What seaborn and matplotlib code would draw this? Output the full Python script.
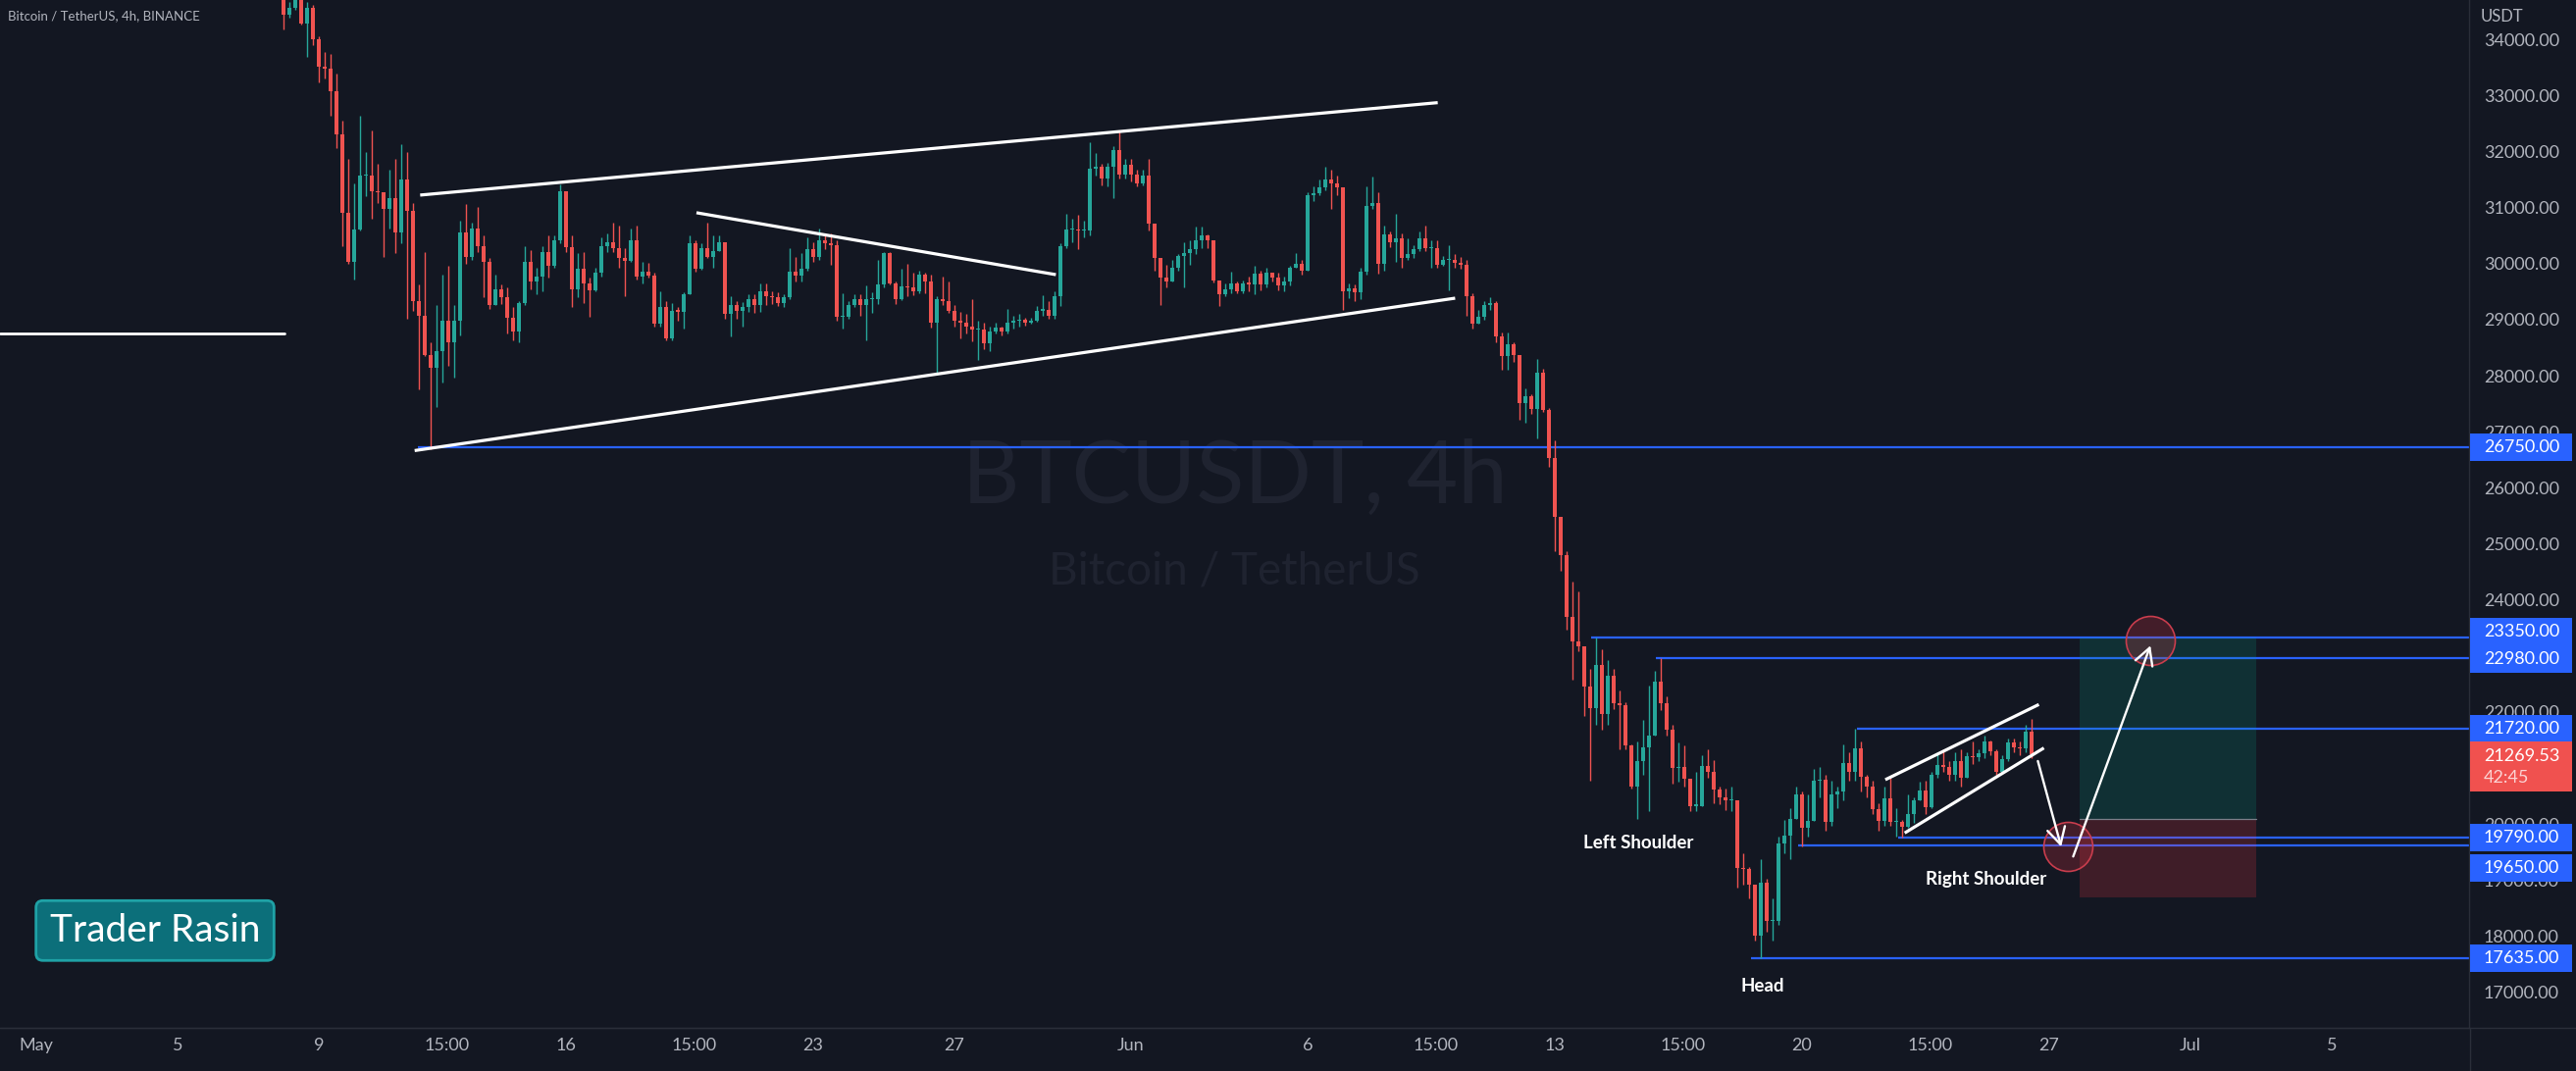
import numpy as np
import pandas as pd
import matplotlib
matplotlib.use("Agg")
import matplotlib.pyplot as plt
import matplotlib.dates as mdates
import matplotlib.transforms as mtransforms
from matplotlib.patches import Rectangle, FancyBboxPatch
from matplotlib.lines import Line2D
import seaborn as sns

# ---------------- data (BTCUSDT 4h, BINANCE) ----------------
candle_start = "2022-05-08 00:00"
candle_freq = "4h"
first_open = 34900
closes = [
    34470, 34590, 34780, 34320, 34590, 34030, 33540, 33510, 33110, 32340,
    30930, 30060, 30630, 31590, 31600, 31310, 31300, 31000, 31190, 30590,
    31530, 30960, 29360, 29090, 28390, 28170, 28460, 29010, 28630, 29010,
    30580, 30150, 30650, 30330, 30060, 29280, 29570, 29420, 29060, 28810,
    29320, 30060, 29700, 29800, 30240, 29990, 30440, 31320, 30320, 29570,
    29940, 29670, 29550, 29860, 30340, 30400, 30300, 30120, 30080, 30440,
    29800, 29890, 29820, 28960, 29260, 28690, 29180, 29170, 29480, 30390,
    29940, 30310, 30150, 30250, 30410, 29130, 29290, 29190, 29250, 29400,
    29280, 29540, 29450, 29420, 29330, 29420, 29880, 29820, 29940, 30280,
    30150, 30440, 30390, 30360, 29070, 29080, 29280, 29390, 29280, 29390,
    29400, 29660, 30210, 29680, 29390, 29620, 29600, 29530, 29830, 29710,
    28980, 29390, 29360, 29190, 29000, 28980, 28900, 28850, 28850, 28600,
    28810, 28890, 28810, 28970, 29000, 29030, 28970, 29010, 29190, 29200,
    29100, 29450, 30330, 30630, 30630, 30620, 30620, 31720, 31760, 31550,
    31760, 32050, 31610, 31790, 31610, 31460, 31590, 30740, 30120, 29780,
    29710, 29950, 30170, 30210, 30290, 30440, 30530, 30440, 29730, 29480,
    29570, 29680, 29540, 29680, 29660, 29840, 29660, 29860, 29770, 29630,
    29700, 29960, 30030, 29900, 31250, 31290, 31390, 31530, 31460, 31380,
    29540, 29590, 29510, 29890, 31060, 31110, 30020, 30540, 30400, 30470,
    30120, 30190, 30290, 30470, 30300, 30300, 30010, 30090, 30090, 30040,
    30010, 29450, 28960, 29070, 29280, 29320, 28720, 28380, 28580, 28400,
    27540, 27660, 27430, 28080, 27410, 26560, 25510, 24820, 23730, 23280,
    23190, 22480, 22090, 22870, 21980, 22670, 22180, 22140, 21420, 20690,
    21150, 21400, 21600, 22570, 22180, 21710, 21020, 21050, 20840, 20350,
    20350, 21060, 20960, 20640, 20500, 20440, 20440, 19240, 19220, 18950,
    18040, 18970, 18290, 18290, 19680, 19820, 20120, 20550, 19960, 20080,
    20790, 20820, 20060, 20550, 20610, 21110, 20950, 21370, 20860, 20700,
    20290, 20080, 20480, 20060, 20060, 19970, 20200, 20450, 20620, 20320,
    20900, 21080, 21050, 20900, 21150, 20850, 21240, 21210, 21280, 21490,
    21320, 20950, 21180, 21480, 21400, 21370, 21670, 21270,
]
highs = [
    34950, 34700, 34900, 34850, 34700, 34650, 34080, 33800, 33770, 33420,
    32570, 31900, 31460, 32660, 32020, 32400, 31810, 31290, 31700, 31900,
    32160, 32020, 31110, 29650, 30240, 28630, 29280, 29830, 29980, 29280,
    30790, 31090, 30760, 31030, 30530, 30120, 29830, 29650, 29600, 29250,
    29360, 30340, 30270, 29950, 30330, 30530, 30530, 31440, 31320, 30530,
    30210, 30240, 29770, 29950, 30500, 30560, 30760, 30700, 30300, 30650,
    30700, 30060, 30040, 29860, 29540, 29360, 29330, 29250, 29510, 30530,
    30440, 30390, 30760, 30530, 30530, 30410, 29450, 29360, 29340, 29480,
    29480, 29680, 29680, 29540, 29510, 29480, 30300, 30150, 30210, 30490,
    30410, 30660, 30560, 30560, 30440, 29500, 29360, 29480, 29480, 29630,
    29510, 30100, 30240, 30240, 29700, 29940, 30020, 29860, 29900, 29860,
    29830, 29450, 29800, 29700, 29290, 29170, 29130, 29390, 29000, 28970,
    28900, 28970, 28900, 29220, 29100, 29130, 29060, 29060, 29270, 29460,
    29350, 29530, 30390, 30910, 30820, 30900, 30800, 32200, 32000, 31800,
    31830, 32130, 32400, 31900, 31900, 31700, 31700, 31900, 30740, 30120,
    30000, 30100, 30200, 30400, 30450, 30680, 30680, 30540, 30440, 29730,
    29680, 29880, 29700, 29720, 29800, 29990, 29900, 29950, 29870, 29870,
    29800, 29990, 30220, 30100, 31300, 31400, 31520, 31750, 31700, 31600,
    31380, 29680, 29650, 29960, 31410, 31580, 31300, 30700, 30600, 30910,
    30560, 30470, 30350, 30600, 30700, 30450, 30440, 30170, 30350, 30200,
    30150, 30100, 29500, 29200, 29350, 29420, 29350, 28800, 28800, 28630,
    28400, 27800, 27700, 28330, 28150, 27450, 26870, 25300, 24900, 24360,
    24180, 23200, 22800, 23350, 23150, 22950, 22800, 22400, 22200, 21450,
    21500, 21880, 22500, 22750, 22980, 22300, 21800, 21480, 21420, 20800,
    20960, 21250, 21350, 21170, 20700, 20650, 20700, 20440, 19500, 19250,
    18950, 19400, 19050, 18700, 19800, 20100, 20300, 20700, 20600, 20550,
    21000, 21050, 20900, 20800, 20700, 21450, 21300, 21720, 21500, 20900,
    20800, 20400, 20700, 20850, 20300, 20100, 20550, 20500, 20780, 20800,
    20950, 21300, 21350, 21150, 21300, 21350, 21300, 21500, 21350, 21600,
    21520, 21350, 21250, 21550, 21550, 21500, 21800, 21900,
]
lows = [
    34200, 34420, 34560, 34290, 33710, 33920, 33270, 33330, 32660, 32080,
    30330, 30030, 29740, 30620, 31230, 30820, 31100, 30150, 30650, 30210,
    30390, 29040, 29190, 27790, 28370, 26710, 27470, 27900, 28200, 27990,
    28750, 30030, 30100, 30240, 29420, 29220, 29280, 29300, 28780, 28660,
    28630, 29290, 29570, 29480, 29540, 29770, 29950, 30390, 30240, 29250,
    29420, 29330, 29070, 29540, 29800, 30240, 30240, 29950, 29450, 30060,
    29740, 29680, 29770, 28900, 28900, 28660, 28660, 29000, 28870, 29480,
    29890, 29920, 30120, 29950, 30250, 29050, 28720, 29050, 28900, 29160,
    29150, 29160, 29290, 29310, 29270, 29250, 29400, 29700, 29700, 29900,
    30050, 30100, 30280, 30000, 29000, 28870, 29050, 29250, 29100, 28660,
    29150, 29300, 29600, 29650, 29300, 29380, 29450, 29470, 29500, 29500,
    28880, 28050, 29290, 29150, 28900, 28700, 28780, 28640, 28310, 28500,
    28470, 28780, 28750, 28780, 28870, 28900, 28920, 28950, 28990, 29100,
    29050, 29050, 29270, 30300, 30400, 30280, 30500, 30530, 31600, 31420,
    31400, 31200, 31550, 31550, 31500, 31400, 31430, 30620, 29900, 29290,
    29600, 29700, 29900, 29600, 30000, 30200, 30300, 30300, 29690, 29270,
    29450, 29500, 29500, 29500, 29540, 29480, 29550, 29600, 29700, 29550,
    29530, 29630, 29950, 29830, 29900, 31150, 31250, 31340, 31000, 31250,
    29200, 29410, 29350, 29400, 29830, 31000, 29850, 29900, 30320, 30050,
    29960, 30100, 30130, 30250, 30250, 29960, 29950, 29990, 29550, 29960,
    29930, 29100, 28870, 28950, 29020, 29200, 28620, 28130, 28130, 28270,
    27240, 27190, 27350, 26900, 27380, 26400, 24900, 24550, 23500, 22600,
    23100, 21950, 20800, 21800, 21700, 21800, 22080, 21350, 21350, 20650,
    20120, 20900, 20250, 21600, 22050, 21600, 20750, 20780, 20700, 20250,
    20250, 20350, 20850, 20400, 20380, 20280, 20250, 18890, 18950, 18700,
    17950, 17630, 18100, 17950, 18230, 19500, 19400, 20150, 19630, 19800,
    20150, 20500, 19900, 20000, 20300, 20450, 20800, 20800, 20600, 20500,
    20200, 19900, 20000, 20000, 19800, 19790, 19950, 20050, 20450, 20200,
    20300, 20850, 20950, 20800, 20800, 20700, 20850, 21100, 21150, 21200,
    21250, 20900, 20950, 21150, 21300, 21250, 21300, 21200,
]

level_prices = [26750, 23350, 22980, 21720, 19790, 19650, 17635]
level_from = ["2022-05-11 19:10", "2022-06-14 00:45", "2022-06-15 20:50",
              "2022-06-21 13:10", "2022-06-22 17:30", "2022-06-19 21:20",
              "2022-06-18 13:25"]
last_price = 21269.53
countdown = "42:45"
price_ticks = list(range(17000, 35000, 1000))
time_ticks = ["2022-05-01", "2022-05-05", "2022-05-09", "2022-05-12 15:00",
              "2022-05-16", "2022-05-19 15:00", "2022-05-23", "2022-05-27",
              "2022-06-01", "2022-06-06", "2022-06-09 15:00", "2022-06-13",
              "2022-06-16 15:00", "2022-06-20", "2022-06-23 15:00",
              "2022-06-27", "2022-07-01", "2022-07-05"]
time_tick_labels = ["May", "5", "9", "15:00", "16", "15:00", "23", "27",
                    "Jun", "6", "15:00", "13", "15:00", "20", "15:00", "27",
                    "Jul", "5"]

# drawings: (time, price)
channel_top = [("2022-05-11 21:00", 31250), ("2022-06-09 16:30", 32900)]
channel_bottom = [("2022-05-11 17:15", 26690), ("2022-06-10 04:20", 29410)]
triangle_top = [("2022-05-19 16:45", 30935), ("2022-05-29 21:00", 29830)]
wedge_top = [("2022-06-22 08:40", 20816), ("2022-06-26 17:00", 22158)]
wedge_bottom = [("2022-06-22 21:50", 19865), ("2022-06-26 20:25", 21382)]
old_level_price = 28780
old_level_end = "2022-05-08 00:30"
arrow_down = [("2022-06-26 16:20", 21149), ("2022-06-27 08:10", 19620)]
arrow_up = [("2022-06-27 16:20", 19445), ("2022-06-29 20:50", 23209)]
circle_marks = [("2022-06-29 21:00", 23296), ("2022-06-27 13:00", 19620)]
pos_start, pos_end = "2022-06-27 20:50", "2022-07-02 20:50"
pos_target, pos_entry, pos_stop = 23350, 20116, 18716
pattern_labels = [("Left Shoulder", "2022-06-15 08:55", 19590),
                  ("Head", "2022-06-18 21:05", 17040),
                  ("Right Shoulder", "2022-06-25 04:50", 18940)]

# ---------------- style ----------------
W, H, DPI = 2626, 1092, 100
BG = "#131722"
UP, DOWN = "#26a69a", "#ef5350"
BLUE = "#2962ff"
TXT = "#b2b5be"
# label de-collision shifts on the price scale (pixels, + = down)
label_shift_px = [0, -6, 1, 0, 0, 23, 0]

sns.set_theme(style="dark", rc={"axes.facecolor": BG, "figure.facecolor": BG,
                                "axes.grid": False})
plt.rcParams["font.family"] = ["Lato", "DejaVu Sans"]


def T(s):
    return mdates.date2num(pd.Timestamp(s).to_pydatetime())


fig = plt.figure(figsize=(W / DPI, H / DPI), dpi=DPI)
fig.patch.set_facecolor(BG)
ax = fig.add_axes([0, 44 / H, 2517 / W, 1048 / H])
ax.set_facecolor(BG)

Y_TOP, Y_BOT = 34731.7, 16387.0
X_L, X_R = T("2022-04-29 23:28"), T("2022-07-08 21:22")
ax.set_xlim(X_L, X_R)
ax.set_ylim(Y_BOT, Y_TOP)
PPX = (Y_TOP - Y_BOT) / 1048.0

# ---------------- candles ----------------
times = pd.date_range(candle_start, periods=len(closes), freq=candle_freq)
x = mdates.date2num(times.to_pydatetime())
c = np.array(closes, float)
o = np.concatenate([[first_open], c[:-1]])
hi = np.maximum(np.array(highs, float), np.maximum(o, c))
lo = np.minimum(np.array(lows, float), np.minimum(o, c))
cols = np.where(c >= o, UP, DOWN)
bottoms = np.minimum(o, c)
heights = np.maximum(np.abs(c - o), 1.3 * PPX)
bw = (4 / 24) * 0.66
ax.vlines(x, lo, hi, colors=cols, linewidth=1.0, zorder=3)
ax.bar(x, heights, width=bw, bottom=bottoms, color=cols, linewidth=0,
       zorder=3.1, align="center")

# ---------------- level lines ----------------
for p, s in zip(level_prices, level_from):
    ax.hlines(p, T(s), X_R, color=BLUE, linewidth=1.6, zorder=2.5)

# ---------------- white drawings ----------------
for seg in [channel_top, channel_bottom, triangle_top, wedge_top, wedge_bottom]:
    ax.plot([T(seg[0][0]), T(seg[1][0])], [seg[0][1], seg[1][1]],
            color="white", linewidth=2.3, solid_capstyle="butt", zorder=4)
ax.plot([X_L, T(old_level_end)], [old_level_price, old_level_price],
        color="white", linewidth=2.0, zorder=4)

# ---------------- long position tool ----------------
ps, pe = T(pos_start), T(pos_end)
ax.add_patch(Rectangle((ps, pos_entry), pe - ps, pos_target - pos_entry,
                       facecolor=(8 / 255, 153 / 255, 129 / 255, 0.2),
                       edgecolor="none", zorder=5))
ax.add_patch(Rectangle((ps, pos_stop), pe - ps, pos_entry - pos_stop,
                       facecolor=(242 / 255, 54 / 255, 69 / 255, 0.2),
                       edgecolor="none", zorder=5))
ax.plot([ps, pe], [pos_entry, pos_entry], color="#7b7f8a", linewidth=0.9,
        zorder=5.1)

# circles
for t, p in circle_marks:
    ax.scatter([T(t)], [p], s=36 ** 2, facecolor=(242 / 255, 54 / 255, 69 / 255, 0.22),
               edgecolor="#c93d4d", linewidth=1.2, zorder=6)

# arrows
for seg in [arrow_down, arrow_up]:
    ax.annotate("", xy=(T(seg[1][0]), seg[1][1]), xytext=(T(seg[0][0]), seg[0][1]),
                arrowprops=dict(arrowstyle="->,head_length=0.55,head_width=0.3",
                                color="white", lw=1.7, mutation_scale=22,
                                shrinkA=0, shrinkB=0), zorder=7)

# pattern labels
for txt, t, p in pattern_labels:
    ax.text(T(t), p, txt, color="white", fontsize=13.5, fontweight="bold",
            ha="center", va="baseline", zorder=8)

# watermark
ax.text(0.5, 1 - 512.7 / 1048, "BTCUSDT, 4h", transform=ax.transAxes,
        fontsize=65, color="#1f2330", ha="center", va="baseline", zorder=0.5)
ax.text(0.5, 1 - 595 / 1048, "Bitcoin / TetherUS", transform=ax.transAxes,
        fontsize=33, color="#1f2330", ha="center", va="baseline", zorder=0.5)

# ---------------- axes cosmetics ----------------
for side in ["top", "left"]:
    ax.spines[side].set_visible(False)
for side in ["bottom", "right"]:
    ax.spines[side].set_color("#2a2e39")
    ax.spines[side].set_linewidth(1.0)
ax.set_yticks([])
ax.set_xticks([T(s) for s in time_ticks])
ax.set_xticklabels(time_tick_labels)
ax.tick_params(axis="x", length=0, pad=7, colors=TXT, labelsize=13)
ax.grid(False)

fig.add_artist(Line2D([0, 1], [44 / H, 44 / H], color="#2a2e39", linewidth=1.0,
                      transform=fig.transFigure))
fig.add_artist(Line2D([2517.5 / W, 2517.5 / W], [0, 44 / H], color="#2a2e39",
                      linewidth=1.0, transform=fig.transFigure))

# right price scale
trans = mtransforms.blended_transform_factory(fig.transFigure, ax.transData)
XL = 2532 / W
hbox = 28 * PPX
lp_top = last_price + 13 * PPX
lp_bot = lp_top - 51 * PPX
label_centers = [p - s * PPX for p, s in zip(level_prices, label_shift_px)]
covered = [(lc - hbox / 2, lc + hbox / 2) for lc in label_centers] + [(lp_bot, lp_top)]
for p in price_ticks:
    # tick labels fully hidden behind a label box are not drawn
    if any(lo_b + 4 * PPX < p < hi_b - 4 * PPX for lo_b, hi_b in covered):
        continue
    ax.text(XL, p, f"{p:.2f}", transform=trans, color=TXT, fontsize=13,
            ha="left", va="center", zorder=9, clip_on=False)
for p, lc in zip(level_prices, label_centers):
    ax.add_patch(Rectangle((2518 / W, lc - hbox / 2), 104 / W, hbox, transform=trans,
                           facecolor=BLUE, edgecolor="none", clip_on=False, zorder=10))
    ax.text(XL, lc, f"{p:.2f}", transform=trans, color="white", fontsize=13,
            ha="left", va="center", zorder=11, clip_on=False)
# last price box
ax.add_patch(Rectangle((2518 / W, lp_bot), 104 / W, lp_top - lp_bot, transform=trans,
                       facecolor="#f0514f", edgecolor="none", clip_on=False, zorder=10))
ax.text(XL, last_price - 2 * PPX, f"{last_price:.2f}", transform=trans, color="white",
        fontsize=13, ha="left", va="center", zorder=11, clip_on=False)
ax.text(XL, last_price - 24 * PPX, countdown, transform=trans, color="#fbd3d3",
        fontsize=13, ha="left", va="center", zorder=11, clip_on=False)
fig.text(2529 / W, 1 - 17 / H, "USDT", color=TXT, fontsize=12, ha="left", va="center")

# title
fig.text(8 / W, 1 - 16 / H, "Bitcoin / TetherUS, 4h, BINANCE", color=TXT,
         fontsize=9.5, ha="left", va="center")

# Trader Rasin badge
badge = FancyBboxPatch((36.7, 112.7), 242.6, 61,
                       boxstyle="round,pad=0,rounding_size=7",
                       facecolor="#0c6f7a", edgecolor="#1fa2a6", linewidth=2,
                       transform=mtransforms.IdentityTransform())
fig.add_artist(badge)
fig.text(158 / W, 132 / H, "Trader Rasin", color="white", fontsize=28,
         ha="center", va="baseline")

fig.savefig("out.png", dpi=DPI, facecolor=BG)
